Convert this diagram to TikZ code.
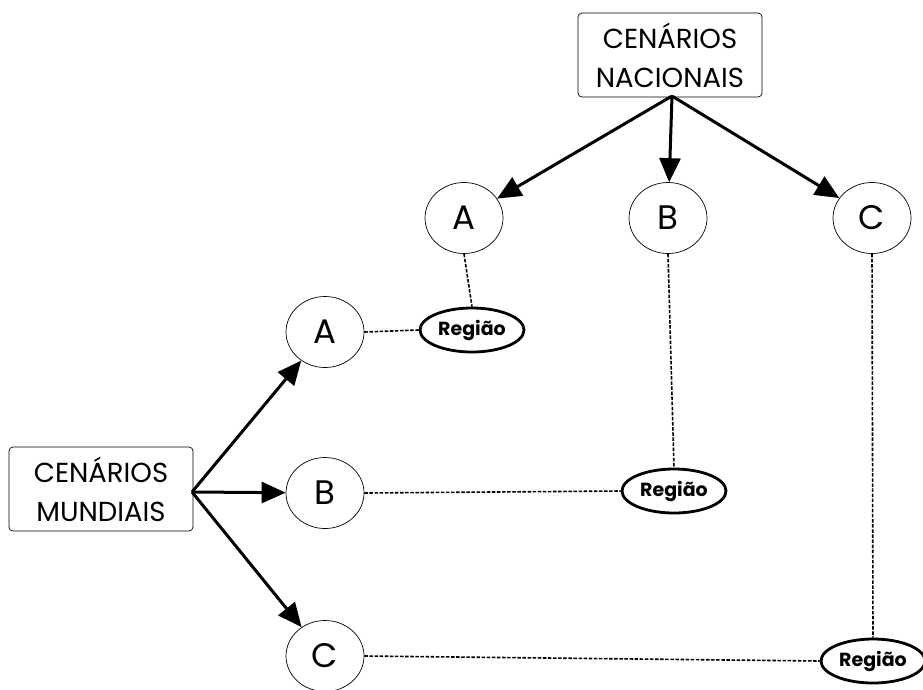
\documentclass[tikz,border=0pt]{standalone}
\usepackage{fontspec}
\setmainfont{Poppins}
\usetikzlibrary{shapes.geometric,arrows.meta}
\begin{document}
\begin{tikzpicture}[x=1pt,y=-1pt,
  cenbox/.style={draw,line width=0.7pt,rounded corners=4pt,minimum width=184pt,minimum height=84pt,inner sep=0pt,align=center,font=\fontsize{27.5}{39}\selectfont},
  scen/.style={draw,ellipse,line width=0.7pt,minimum width=78pt,minimum height=71pt,inner sep=0pt,font=\fontsize{34}{34}\selectfont},
  regiao/.style={draw,ellipse,line width=2.8pt,minimum width=104pt,minimum height=44pt,inner sep=0pt,font=\bfseries\fontsize{19}{19}\selectfont},
  bigarrow/.style={line width=3pt,-{Triangle[length=24pt,width=21pt]}},
  dotline/.style={line width=1.6pt,dash pattern=on 3.5pt off 1.6pt}
]
\useasboundingbox (0,0) rectangle (923,689);
\node[cenbox] (nac) at (670,55) {CENÁRIOS\\NACIONAIS};
\node[cenbox] (mun) at (101,489) {CENÁRIOS\\MUNDIAIS};
\coordinate (nacO) at (672,96);
\coordinate (munO) at (192,492);
\node[scen] (tA) at (464,218) {A};
\node[scen] (tB) at (668,218) {B};
\node[scen] (tC) at (872,218) {C};
\node[scen] (lA) at (325,332) {A};
\node[scen] (lB) at (325,493) {B};
\node[scen] (lC) at (325,656) {C};
\node[regiao] (r1) at (472,330) {Região};
\node[regiao] (r2) at (674,491) {Região};
\node[regiao] (r3) at (873,661) {Região};
\draw[bigarrow] (nacO) -- (tA);
\draw[bigarrow] (nacO) -- (tB);
\draw[bigarrow] (nacO) -- (tC);
\draw[bigarrow] (munO) -- (lA);
\draw[bigarrow] (munO) -- (lB);
\draw[bigarrow] (munO) -- (lC);
\draw[dotline] (tA.south) -- (r1.north);
\draw[dotline] (tB.south) -- (r2.north);
\draw[dotline] (tC.south) -- (r3.north);
\draw[dotline] (lA.east) -- (r1.west);
\draw[dotline] (lB.east) -- (r2.west);
\draw[dotline] (lC.east) -- (r3.west);
\end{tikzpicture}
\end{document}
